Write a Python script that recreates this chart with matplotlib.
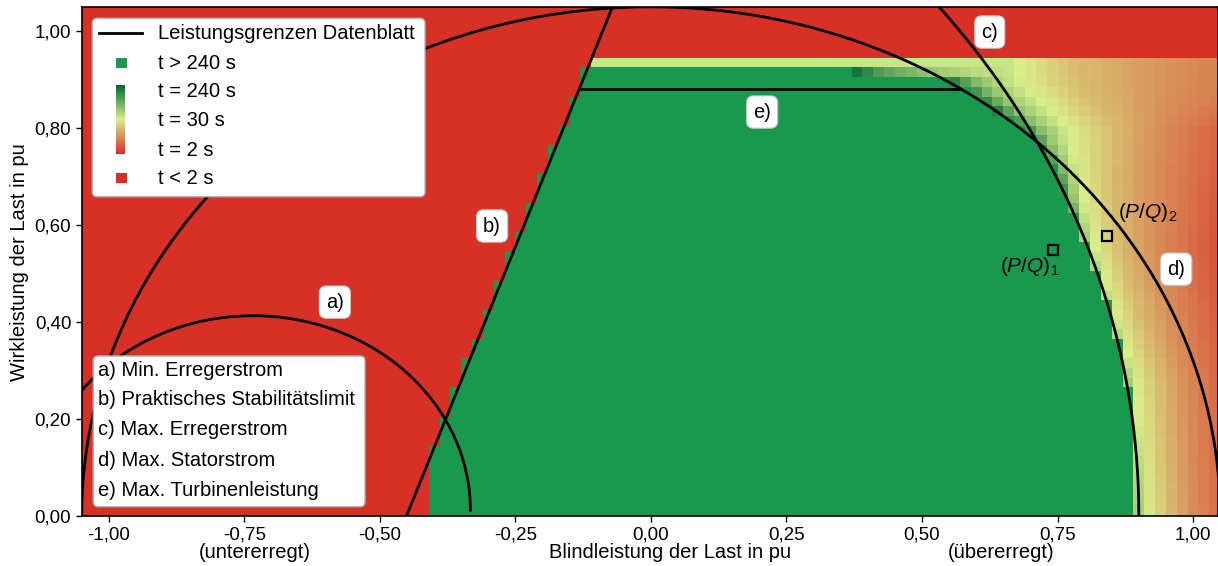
import numpy as np
import matplotlib
matplotlib.use("Agg")
import matplotlib.pyplot as plt
from matplotlib.colors import LinearSegmentedColormap, TwoSlopeNorm
from matplotlib.patches import FancyBboxPatch, Rectangle
from matplotlib.ticker import FuncFormatter, MultipleLocator

plt.rcParams['font.family'] = ['Liberation Sans', 'DejaVu Sans']
plt.rcParams['mathtext.fontset'] = 'custom'
plt.rcParams['mathtext.it'] = 'Liberation Sans:italic'
plt.rcParams['mathtext.rm'] = 'Liberation Sans'

# ---------------------------------------------------------------- data
# operating-point grid (cell centres, pu)
q_cells = np.round(np.arange(-1.06, 1.041, 0.02), 3)
p_cells = np.round(np.arange(-0.005, 1.06, 0.02), 3)

# datasheet capability limits
min_exc_center = (-0.734, 0.012)   # a) minimum field current (circle)
min_exc_radius = 0.401
stab_q0, stab_slope = -0.451, 0.362  # b) practical stability limit Q = q0 + slope*P
max_exc_center = (-0.78, 0.0)      # c) maximum field current (circle)
max_exc_radius = 1.68
stator_radius = 1.05               # d) maximum stator current (circle about origin)
turbine_p = 0.88                   # e) maximum turbine power

# simulated stability boundary and turbine overload
sim_stab_q0 = -0.455
sim_stab_qmin = -0.40
turbine_trip_p = 0.945
turbine_band_p = 0.925
turbine_band_t = 35.0
turbine_row_q = [0.36, 0.38, 0.40, 0.42, 0.44, 0.46, 0.48, 0.50, 0.52, 0.54, 0.56, 0.60, 0.70]
turbine_row_t = [400, 198, 149, 111, 92, 80, 72, 63, 56, 50, 47, 40, 36]

# iso-time contours beyond the field / stator limit: Q position per active power
contour_t = [60, 30, 15, 8, 4, 2]
contour_p = [0.00, 0.28, 0.55, 0.70, 0.80, 0.90]
contour_q = [
    [0.895, 0.915, 0.955, 0.995, 1.070, 1.160],
    [0.875, 0.895, 0.935, 0.980, 1.060, 1.150],
    [0.800, 0.820, 0.860, 0.925, 1.020, 1.110],
    [0.770, 0.790, 0.845, 0.925, 1.040, 1.140],
    [0.720, 0.770, 0.850, 0.930, 1.060, 1.180],
    [0.600, 0.680, 0.780, 0.960, 1.250, 1.400],
]

T_SHORT, T_LONG = 0.5, 1.0e4

legend_entries = ["Leistungsgrenzen Datenblatt", "t > 240 s", "t = 240 s",
                  "t = 30 s", "t = 2 s", "t < 2 s"]
limit_names = ["a) Min. Erregerstrom", "b) Praktisches Stabilitätslimit",
               "c) Max. Erregerstrom", "d) Max. Statorstrom",
               "e) Max. Turbinenleistung"]
limit_tags = ["a)", "b)", "c)", "d)", "e)"]
limit_tag_q = [-0.583, -0.293, 0.625, 0.969, 0.205]
limit_tag_p = [0.441, 0.598, 0.998, 0.509, 0.833]
op_points_q = [0.742, 0.841]
op_points_p = [0.548, 0.578]

# ---------------------------------------------------------------- time field
Qg, Pg = np.meshgrid(q_cells, p_cells)
logt = np.full(Qg.shape, np.log10(T_LONG))

q_c_bound = max_exc_center[0] + np.sqrt(np.clip(max_exc_radius**2 - (Pg - max_exc_center[1])**2, 0, None))
q_d_bound = np.sqrt(np.clip(stator_radius**2 - Pg**2, 0, None))
q_bound = np.minimum(q_c_bound, q_d_bound)

cq = np.array(contour_q)
lt_knots = np.log10([240] + contour_t)
for j, p in enumerate(p_cells):
    qb = q_bound[j, 0]
    qs = [qb - 0.01]
    for col in range(cq.shape[1]):
        qk = np.interp(p, contour_p, cq[:, col])
        qs.append(max(qk, qs[-1] + 0.003))
    row_lt = np.interp(q_cells, qs, lt_knots)
    over = q_cells >= qb
    logt[j, over] = np.minimum(logt[j, over], np.minimum(row_lt[over], np.log10(239)))

row1 = (Pg > turbine_band_p - 0.02) & (Pg < turbine_band_p)
lt_row = np.interp(Qg, turbine_row_q, np.log10(turbine_row_t), left=np.log10(T_LONG))
logt = np.where(row1, np.minimum(logt, lt_row), logt)

band = (Pg > turbine_band_p) & (Pg < turbine_trip_p)
logt = np.where(band, np.minimum(logt, np.log10(turbine_band_t)), logt)
logt = np.where(Pg > turbine_trip_p, np.log10(T_SHORT), logt)

unstable = (Qg <= sim_stab_q0 + stab_slope * Pg) | (Qg < sim_stab_qmin)
logt = np.where(unstable, np.log10(T_SHORT), logt)

# ---------------------------------------------------------------- figure
W, H = 1218, 566
fig = plt.figure(figsize=(W / 100, H / 100), dpi=100)
ax = fig.add_axes([81.7 / W, 1 - 516 / H, (W - 81.7) / W, (516 - 7.3) / H])

cmap = LinearSegmentedColormap.from_list(
    "overload", [(0.0, "#d73027"), (0.5, "#d9ef8b"), (1.0, "#006837")])
cmap.set_under("#d73027")
cmap.set_over("#1a9850")
norm = TwoSlopeNorm(vmin=np.log10(2), vcenter=np.log10(30), vmax=np.log10(240))

ax.pcolormesh(q_cells, p_cells, logt, cmap=cmap, norm=norm, shading="nearest",
              antialiased=False, zorder=1)

lw = 2.0
th = np.linspace(0, np.pi, 721)
ax.plot(min_exc_center[0] + min_exc_radius * np.cos(th),
        min_exc_center[1] + min_exc_radius * np.sin(th), color="k", lw=lw, zorder=3)
pp = np.array([0.0, 1.1])
ax.plot(stab_q0 + stab_slope * pp, pp, color="k", lw=lw, zorder=3)
ax.plot(max_exc_center[0] + max_exc_radius * np.cos(th),
        max_exc_center[1] + max_exc_radius * np.sin(th), color="k", lw=lw, zorder=3)
ax.plot(stator_radius * np.cos(th), stator_radius * np.sin(th), color="k", lw=lw, zorder=3)
q_e0 = stab_q0 + stab_slope * turbine_p
q_e1 = np.sqrt(stator_radius**2 - turbine_p**2)
ax.plot([q_e0, q_e1], [turbine_p, turbine_p], color="k", lw=lw, zorder=3)

ax.plot(op_points_q, op_points_p, ls="none", marker="s", ms=6.5, mfc="none",
        mec="k", mew=1.6, zorder=4)
ax.text(0.699, 0.515, r"$\mathit{(P/Q)}_\mathit{1}$", fontsize=15, ha="center",
        va="center", zorder=5)
ax.text(0.917, 0.625, r"$\mathit{(P/Q)}_\mathit{2}$", fontsize=15, ha="center",
        va="center", zorder=5)

for tag, tq, tp in zip(limit_tags, limit_tag_q, limit_tag_p):
    ax.text(tq, tp, tag, fontsize=14.5, ha="center", va="center", zorder=6,
            bbox=dict(boxstyle="round,pad=0.33,rounding_size=0.35", fc="white",
                      ec="#c8c8c8", lw=0.8))

ax.set_xlim(-1.05, 1.046)
ax.set_ylim(0, 1.049)
fmt = FuncFormatter(lambda v, _: f"{v:.2f}".replace(".", ","))
ax.xaxis.set_major_locator(MultipleLocator(0.25))
ax.yaxis.set_major_locator(MultipleLocator(0.2))
ax.xaxis.set_major_formatter(fmt)
ax.yaxis.set_major_formatter(fmt)
ax.tick_params(labelsize=13.5, length=4, width=1)
for s in ax.spines.values():
    s.set_linewidth(1.2)
ax.set_ylabel("Wirkleistung der Last in pu", fontsize=14.5, labelpad=4)

fig.text(255 / W, 1 - 553 / H, "(untererregt)", fontsize=14.5, ha="center", va="center")
fig.text(670 / W, 1 - 553 / H, "Blindleistung der Last in pu", fontsize=14.5,
         ha="center", va="center")
fig.text(1001 / W, 1 - 553 / H, "(übererregt)", fontsize=14.5, ha="center", va="center")

# ---------------------------------------------------------------- legends (pixel overlay)
ov = fig.add_axes([0, 0, 1, 1], zorder=10)
ov.axis("off")


def box(x0, y0, x1, y1):
    ov.add_patch(FancyBboxPatch((x0, y0), x1 - x0, y1 - y0,
                                boxstyle="round,pad=0,rounding_size=5",
                                fc="white", ec="#b4b4b4", lw=1.0, zorder=1))


box(92.3, 18.3, 425, 196.7)
rows_y = [33.3, 63.3, 91.7, 120.7, 150, 178.3]
for label, yy in zip(legend_entries, rows_y):
    ov.text(158.3, yy, label, fontsize=14.5, ha="left", va="center", zorder=3)
ov.plot([99.3, 141.7], [33.3, 33.3], color="k", lw=lw, zorder=3)
ov.add_patch(Rectangle((116, 58.3), 10.5, 10, fc="#1a9850", ec="none", zorder=3))
ov.add_patch(Rectangle((116, 173), 10.5, 10, fc="#d73027", ec="none", zorder=3))
grad = np.linspace(1, 0, 200).reshape(-1, 1)
ov.imshow(grad, cmap=cmap, vmin=0, vmax=1, extent=(116, 125, 154, 85),
          aspect="auto", interpolation="bilinear", zorder=3)

box(93.3, 356, 365, 506.7)
for label, yy in zip(limit_names, [370, 399.3, 429.3, 460, 490]):
    ov.text(98.3, yy, label, fontsize=14.5, ha="left", va="center", zorder=3)

ov.set_xlim(0, W)
ov.set_ylim(H, 0)

fig.savefig("out.png", dpi=100)
